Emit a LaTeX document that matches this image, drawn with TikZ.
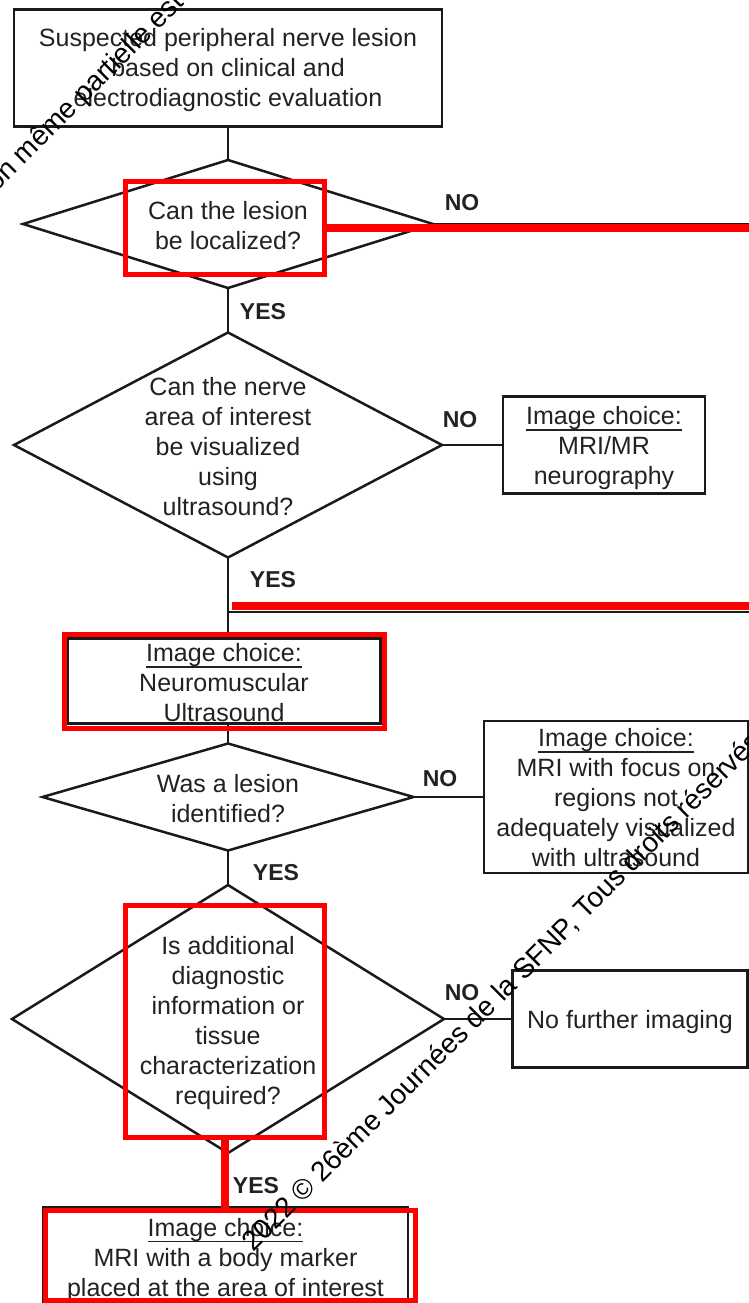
\documentclass[tikz,border=0pt]{standalone}
\usepackage{fontspec}
\setmainfont{Liberation Sans}
\usetikzlibrary{shapes.geometric}
\definecolor{ink}{HTML}{1A1A1A}
\definecolor{txt}{HTML}{222222}
\definecolor{mark}{HTML}{FF0000}
\newcommand{\undl}[1]{\setbox0=\hbox{#1}\rlap{\rule[-6pt]{\wd0}{1.8pt}}\box0}
\begin{document}
\begin{tikzpicture}[x=1pt,y=-1pt,
  box/.style={draw=ink, line width=2.6pt, rectangle, inner sep=0pt, outer sep=0pt},
  dia/.style={draw=ink, line width=2.5pt, diamond, inner sep=0pt, outer sep=0pt},
  qtext/.style={align=center, text=txt, font=\fontsize{25}{30}\selectfont, inner sep=0pt},
  lab/.style={font=\fontsize{23}{23}\selectfont\bfseries, text=txt, inner sep=0pt},
  conn/.style={draw=ink, line width=2.5pt},
  redbox/.style={draw=mark, line width=5pt, rectangle, inner sep=0pt, outer sep=0pt},
  redline/.style={draw=mark, line width=8pt},
  wm/.style={font=\fontsize{28}{28}\selectfont, text=black, inner sep=0pt, rotate=45, anchor=base west}
]
\useasboundingbox[fill=white] (0,0) rectangle (749,1303);

% boxes
\node[box, minimum width=428, minimum height=117] (top) at (228,68) {};
\node[qtext] (ttop) at (228,70.5)
  {Suspected peripheral nerve lesion\\based on clinical and\\electrodiagnostic evaluation};
\node[box, minimum width=202, minimum height=97] (mri) at (604,445) {};
\node[qtext] (tmri) at (604,448.5) {\undl{Image choice:}\\MRI/MR\\neurography};
\node[box, minimum width=313, minimum height=85] (neuro) at (224,681) {};
\node[qtext] (tneuro) at (224,683) {\undl{Image choice:}\\Neuromuscular\\Ultrasound};
\node[box, minimum width=264, minimum height=152] (b4) at (616,797) {};
\node[qtext] (tb4) at (616,798)
  {\undl{Image choice:}\\MRI with focus on\\regions not\\adequately visualized\\with ultrasound};
\node[box, minimum width=235, minimum height=97] (b5) at (630,1019) {};
\node[qtext] (tb5) at (630,1022) {No further imaging};
\node[box, minimum width=365, minimum height=102] (fin) at (225.5,1258) {};
\node[qtext] (tfin) at (225.5,1260)
  {\undl{Image choice:}\\MRI with a body marker\\placed at the area of interest};

% diamonds
\node[dia, minimum width=410, minimum height=128] (d1) at (228,224) {};
\node[qtext] (q1) at (228,226) {Can the lesion\\be localized?};
\node[dia, minimum width=428, minimum height=225] (d2) at (228,445) {};
\node[qtext] (q2) at (228,446.5) {Can the nerve\\area of interest\\be visualized\\using\\ultrasound?};
\node[dia, minimum width=371, minimum height=107] (d3) at (228,797) {};
\node[qtext] (q3) at (228,798.5) {Was a lesion\\identified?};
\node[dia, minimum width=432, minimum height=268] (d4) at (228,1019) {};
\node[qtext] (q4) at (228,1023) {Is additional\\diagnostic\\information or\\tissue\\characterization\\required?};

% labels
\node[lab] (no1) at (462,203) {NO};
\node[lab] (no2) at (460,420) {NO};
\node[lab] (no3) at (440,779) {NO};
\node[lab] (no4) at (462,993) {NO};
\node[lab] (yes1) at (263,312) {YES};
\node[lab] (yes2) at (273,580) {YES};
\node[lab] (yes3) at (276,873) {YES};
\node[lab] (yes4) at (256,1186) {YES};

% connectors
\coordinate (e1) at (749,224);
\coordinate (j2) at (228,612);
\coordinate (e2) at (749,612);
\draw[conn] (top.south) -- (d1.north);
\draw[conn] (d1.east) -- (e1);
\draw[conn] (d1.south) -- (d2.north);
\draw[conn] (d2.east) -- (mri.west);
\draw[conn] (d2.south) -- (d2.south |- neuro.north);
\draw[conn] (j2) -- (e2);
\draw[conn] (neuro.south -| d3.north) -- (d3.north);
\draw[conn] (d3.east) -- (b4.west);
\draw[conn] (d3.south) -- (d4.north);
\draw[conn] (d4.east) -- (b5.west);
\draw[conn] (d4.south) -- (d4.south |- fin.north);

% red annotations
\node[redbox, minimum width=199, minimum height=93] (r1) at (224.5,228) {};
\node[redbox, minimum width=320, minimum height=94] (r2) at (224,681) {};
\node[redbox, minimum width=199, minimum height=232] (r3) at (224.5,1021) {};
\node[redbox, minimum width=370, minimum height=90] (r4) at (230,1255) {};
\coordinate (re1) at (749,228);
\coordinate (ra) at (232,606);
\coordinate (rb) at (749,606);
\draw[redline] (r1.east) -- (re1);
\draw[redline] (ra) -- (rb);
\draw[redline] (r3.south) -- (r3.south |- r4.north);

% watermark text
\node[wm] (wm1) at (253,1253) {2022 © 26ème Journées de la SFNP, Tous droits réservés};
\node[wm] (wm2) at (-4,193) {on même partielle est};
\end{tikzpicture}
\end{document}
